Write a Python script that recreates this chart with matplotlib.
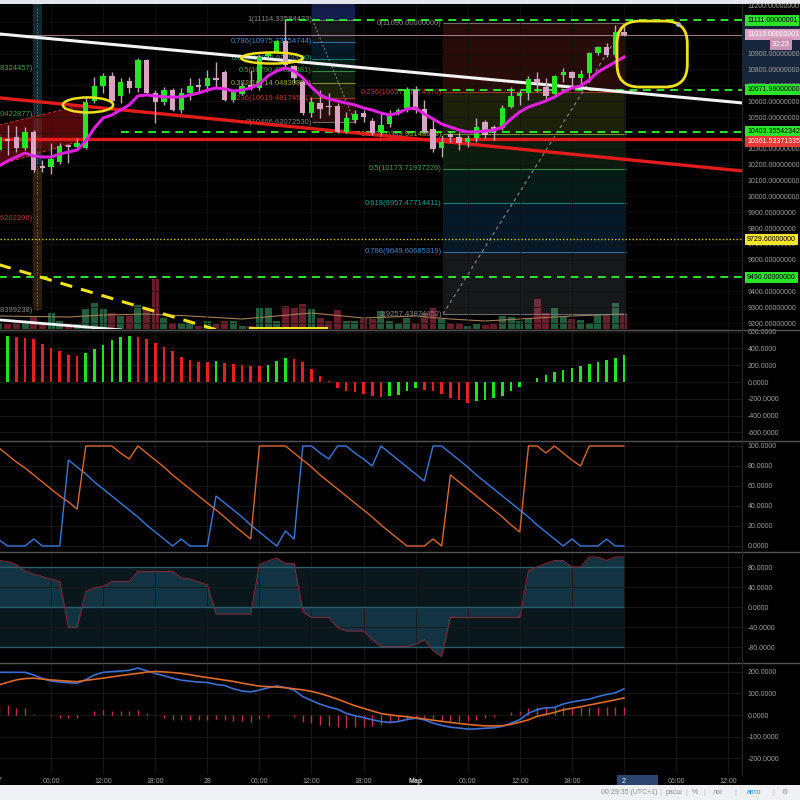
#!/usr/bin/env python3
"""
BTC 1h chart, 27 Feb - 2 Mar, dark theme: candles + fib retracements,
AO histogram, stochastic, CCI-style oscillator and MACD panes.
"""

import matplotlib
matplotlib.use('Agg')
import matplotlib.pyplot as plt
from matplotlib.patches import Rectangle, Ellipse, Polygon, FancyBboxPatch
from matplotlib.lines import Line2D
from matplotlib.ticker import FormatStrFormatter
import numpy as np

plt.rcParams['font.family'] = ['Liberation Sans', 'DejaVu Sans']

# ---------------------------------------------------------------- data
hours = np.arange(73)  # hours since 27 Feb 00:00

opens = [10292, 10361, 10374, 10305, 10406, 10191, 10185, 10216, 10324, 10311,
         10305, 10601, 10696, 10759, 10633, 10727, 10683, 10860, 10651, 10595,
         10670, 10544, 10651, 10702, 10696, 10746, 10784, 10607, 10645, 10702,
         10683, 10885, 10910, 10979, 10822, 10721, 10525, 10588, 10572, 10569,
         10406, 10481, 10525, 10475, 10406, 10456, 10525, 10557, 10670, 10551,
         10424, 10305, 10393, 10374, 10343, 10368, 10469, 10437, 10431, 10563,
         10633, 10651, 10740, 10689, 10645, 10765, 10784, 10746, 10778, 10904,
         10941, 10891, 11036]
closes = [10374, 10349, 10305, 10406, 10166, 10179, 10235, 10317, 10311, 10336,
          10595, 10696, 10759, 10601, 10721, 10683, 10860, 10651, 10595, 10670,
          10544, 10651, 10696, 10689, 10746, 10733, 10607, 10658, 10696, 10683,
          10878, 10904, 10979, 10828, 10746, 10525, 10595, 10551, 10566, 10406,
          10494, 10519, 10500, 10399, 10450, 10506, 10544, 10677, 10544, 10406,
          10298, 10343, 10374, 10336, 10368, 10437, 10387, 10412, 10557, 10633,
          10651, 10740, 10714, 10633, 10759, 10784, 10746, 10771, 10904, 10941,
          10891, 11036, 11019]
highs = [10399, 10450, 10443, 10437, 10418, 10229, 10336, 10336, 10330, 10368,
         10633, 10752, 10778, 10784, 10746, 10752, 10872, 10866, 10670, 10689,
         10683, 10683, 10746, 10746, 10796, 10847, 10796, 10670, 10714, 10796,
         10891, 10910, 10986, 11114, 10828, 10733, 10626, 10670, 10651, 10588,
         10532, 10544, 10544, 10494, 10532, 10544, 10557, 10689, 10696, 10607,
         10494, 10387, 10406, 10406, 10387, 10494, 10481, 10450, 10576, 10689,
         10670, 10759, 10784, 10746, 10765, 10809, 10790, 10796, 10910, 10948,
         10967, 11080, 11080]
lows = [10279, 10261, 10279, 10292, 10153, 10153, 10141, 10204, 10210, 10305,
        10298, 10588, 10651, 10588, 10588, 10651, 10658, 10639, 10462, 10576,
        10538, 10525, 10607, 10658, 10658, 10683, 10600, 10595, 10639, 10670,
        10670, 10872, 10904, 10815, 10714, 10513, 10500, 10494, 10513, 10399,
        10399, 10462, 10469, 10387, 10387, 10437, 10513, 10532, 10525, 10399,
        10279, 10248, 10343, 10292, 10311, 10343, 10368, 10355, 10418, 10557,
        10576, 10607, 10658, 10607, 10633, 10721, 10689, 10702, 10721, 10891,
        10878, 10878, 11011]
ma_line = [10191, 10223, 10248, 10273, 10254, 10248, 10248, 10267, 10279, 10292,
           10349, 10431, 10494, 10513, 10544, 10576, 10633, 10639, 10633, 10626,
           10626, 10626, 10639, 10651, 10670, 10683, 10677, 10664, 10670, 10683,
           10708, 10759, 10790, 10809, 10790, 10746, 10689, 10639, 10614, 10601,
           10588, 10576, 10557, 10544, 10525, 10513, 10525, 10551, 10557, 10519,
           10488, 10456, 10437, 10418, 10406, 10406, 10412, 10418, 10437, 10488,
           10532, 10563, 10582, 10601, 10626, 10658, 10683, 10696, 10733, 10784,
           10815, 10847, 10878]
volume = [600, 500, 800, 800, 1200, 600, 1600, 800, 600, 500,
          2000, 2600, 2000, 1600, 1300, 1300, 2400, 2100, 5000, 1100,
          600, 600, 800, 300, 800, 500, 800, 800, 300, 300,
          2100, 2100, 800, 2300, 2100, 2500, 2000, 1100, 800, 1900,
          800, 800, 1000, 1000, 1800, 800, 600, 1100, 600, 1600,
          2100, 1000, 600, 600, 300, 500, 400, 500, 1300, 1200,
          800, 1100, 3000, 1600, 2100, 1200, 1000, 900, 600, 1500,
          1500, 2600, 1500]
vol_ma_hours = [0, 8, 12, 17, 22, 28, 32, 36, 42, 48, 52, 56, 60, 66, 72]
vol_ma = [1300, 1200, 1400, 1500, 1300, 1000, 1300, 1600, 1100, 1300, 1000, 800,
          1000, 1300, 1500]

ao = [530, 542, 540, 523, 511, 455, 404, 364, 325, 305,
      345, 392, 444, 495, 535, 550, 535, 511, 463, 416,
      364, 297, 257, 238, 234, 246, 226, 218, 206, 194,
      186, 206, 246, 285, 273, 234, 154, 75, 8, -71,
      -111, -115, -139, -162, -178, -170, -150, -111, -71, -90,
      -111, -139, -190, -210, -250, -230, -210, -190, -170, -111,
      -59, -4, 48, 87, 115, 147, 166, 186, 214, 234,
      257, 285, 325]

stoch_k = [6, 0, 0, 0, 7, 0, 0, 0, 86, 79,
           72, 64, 57, 50, 43, 36, 29, 21, 14, 7,
           0, 7, 0, 0, 0, 50, 43, 36, 29, 21,
           14, 7, 0, 15, 7, 100, 100, 93, 87, 100,
           100, 93, 87, 80, 100, 93, 86, 79, 72, 65,
           100, 100, 93, 86, 79, 71, 64, 57, 50, 43,
           36, 29, 21, 14, 7, 0, 7, 0, 0, 0,
           7, 0, 0]
stoch_d = [98, 91, 84, 78, 71, 64, 57, 50, 44, 37,
           100, 100, 100, 100, 93, 87, 100, 93, 86, 79,
           71, 64, 57, 50, 43, 36, 29, 21, 14, 7,
           100, 100, 100, 100, 93, 86, 79, 71, 64, 57,
           50, 43, 36, 29, 21, 14, 7, 0, 0, 0,
           7, 0, 71, 64, 57, 50, 43, 36, 29, 21,
           14, 100, 100, 93, 100, 93, 86, 80, 100, 100,
           100, 100, 100]

cci = [93, 91, 85, 72, 65, 61, 55, 51, -41, -41,
       31, 38, 41, 51, 51, 51, 71, 71, 71, 71,
       71, 58, 56, 50, 44, -14, -14, -14, -14, -14,
       85, 92, 98, 87, 87, -9, -21, -21, -21, -41,
       -48, -48, -48, -65, -79, -79, -79, -79, -75, -65,
       -87, -99, -21, -21, -21, -21, -21, -21, -21, -21,
       -21, 73, 80, 87, 93, 93, 80, 80, 100, 100,
       93, 100, 100]

macd = [197, 197, 197, 197, 185, 168, 157, 152, 149, 146,
        163, 185, 197, 200, 203, 206, 217, 204, 192, 181,
        170, 161, 156, 152, 150, 141, 136, 121, 111, 107,
        115, 126, 134, 127, 115, 85, 67, 50, 37, 27,
        8, -3, -12, -22, -30, -34, -30, -20, -15, -22,
        -37, -48, -56, -60, -65, -64, -61, -59, -52, -38,
        -21, 8, 25, 33, 35, 51, 60, 67, 73, 85,
        95, 102, 121]
signal = [139, 151, 162, 168, 170, 166, 162, 159, 156, 154,
          160, 165, 170, 176, 182, 187, 192, 198, 201, 199,
          196, 192, 186, 179, 173, 167, 161, 155, 147, 140,
          133, 131, 129, 126, 121, 116, 109, 99, 87, 73,
          58, 43, 31, 19, 7, 1, -4, -8, -13, -18,
          -24, -29, -34, -39, -43, -47, -50, -50, -49, -43,
          -33, -22, -6, 3, 12, 24, 31, 38, 46, 54,
          62, 70, 79]
macd_hist = [50, 44, 33, 33, 5, 0, -3, -14, -14, -14,
             2, 17, 24, 20, 20, 20, 24, 8, 0, -14,
             -24, -24, -24, -24, -24, -19, -24, -27, -27, -30,
             -19, -8, 0, 0, -8, -30, -39, -46, -50, -55,
             -58, -55, -55, -50, -46, -39, -30, -24, -14, -14,
             -19, -24, -27, -30, -27, -24, -14, -8, 0, 13,
             20, 33, 39, 39, 36, 36, 33, 36, 36, 39,
             39, 39, 39]

# horizontal levels drawn on the chart
green_levels = [11111.00000001, 10671.96, 10403.35542342, 9490.0]
green_level_start = [33, 46, 14, 0]
red_level = 10361.53371335
yellow_level = 9729.6
last_price = 11019.00000001

# trend lines, anchors as (hour, price)
white_line_h, white_line_p = [0, 86], [11024, 10587]
red_line_h, red_line_p = [0, 86], [10621, 10158]
white_low_h, white_low_p = [0, 14], [9221, 9158]
yellow_dash_h, yellow_dash_p = [0, 26], [9569, 9143]
yellow_base_h, yellow_base_p = [28.9, 37.8], [9172, 9172]
channel_h = [0, 9.7, 9.7, 0]
channel_p = [10450, 10576, 10355, 10198]

# fibonacci retracements
fib1_ratio = [1, 0.786, 0.618, 0.5, 0.382, 0.236, 0]
fib1_price = [11114.33584433, 10975.73554744, 10866.92, 10790.47828481,
              10714.04830856, 10619.48174541, 10466.62072530]
fib1_span = (36.1, 41.0)
fib2_ratio = [0, 0.236, 0.382, 0.5, 0.618, 0.786, 1]
fib2_price = [11090.0, 10657.51574370, 10389.96148659, 10173.71937226,
              9957.47714411, 9649.60685319, 9257.43874452]
fib2_span = (51.15, 72.2)

# cut-off labels of a fib that starts left of the view
edge_label_text = ['(10809.88324457)', '(10519.50422877)', '(9863.66202396)', '(9283.48399238)']
edge_label_price = [10809, 10519, 9863, 9283]

tick_hours = [6, 12, 18, 24, 30, 36, 42, 48, 54, 60, 66, 72, 78, 84]
tick_text = ['06:00', '12:00', '18:00', '28', '06:00', '12:00', '18:00', 'Мар',
             '06:00', '12:00', '18:00', '2', '06:00', '12:00']

# ---------------------------------------------------------------- style
BG = '#000000'
AXIS_TXT = '#a0a0a0'
GRID = '#1b1b1b'
UP, DOWN, WICK = '#25e625', '#d8a4c2', '#c0a6b6'
YELLOW = '#f0e01e'
GREEN_LVL = '#2ee62e'
RED_LVL = '#e31b1b'
lev_col = {0: '#858585', 0.236: '#c0392b', 0.382: '#9aa93a', 0.5: '#3fa34a',
           0.618: '#1f9a8a', 0.786: '#3f86c8', 1: '#858585'}
band_col = {0.236: '#f44336', 0.382: '#b5c43a', 0.5: '#4caf50', 0.618: '#1fa88a',
            0.786: '#2196f3', 1: '#8a8f9a'}

XMIN, XMAX = 0.115, 85.6
PLOT_R = 742

fig = plt.figure(figsize=(8, 8), dpi=100, facecolor=BG)


def fig_rect(x0, y0, x1, y1, color, z=-1):
    fig.add_artist(Rectangle((x0 / 800, 1 - y1 / 800), (x1 - x0) / 800, (y1 - y0) / 800,
                             transform=fig.transFigure, color=color, lw=0, zorder=z))


# chrome: top strip, status bar, axis highlights
fig_rect(0, 0, 800, 4, '#e3e6ec')
fig_rect(0, 785, 800, 800, '#eef0f4')
fig_rect(PLOT_R, 21, 800, 87, '#17263a')
fig_rect(617, 775, 658, 785, '#2c4470')

panes = [(4, 329), (330, 440), (441, 551), (552, 662), (663, 774)]
axes = []
for top, bot in panes:
    a = fig.add_axes([0, 1 - bot / 800, PLOT_R / 800, (bot - top) / 800])
    a.set_facecolor(BG)
    for s in a.spines.values():
        s.set_visible(False)
    a.set_xlim(XMIN, XMAX)
    a.set_xticks(tick_hours)
    a.grid(True, color=GRID, lw=0.6)
    axes.append(a)
ax, ax_ao, ax_st, ax_cci, ax_macd = axes

# ---------------------------------------------------------------- main pane
ax.set_ylim(9163.4, 11212.6)
ax.set_yticks(np.arange(9200, 11201, 100))
ax.yaxis.set_major_formatter(FormatStrFormatter('%.8f'))
ax.grid(True, color='#121212', lw=0.5)

# volume on its own scale, beneath the price drawings
axv = ax.twinx()
axv.set_ylim(0, 32500)
axv.yaxis.set_visible(False)
for s in axv.spines.values():
    s.set_visible(False)
ax.set_zorder(axv.get_zorder() + 1)
ax.patch.set_visible(False)
up = np.array(closes) >= np.array(opens)
axv.bar(hours, volume, width=0.8, color=np.where(up, '#3a9a66', '#b03045'), alpha=0.6, lw=0)
axv.plot(vol_ma_hours, vol_ma, color='#a0805a', lw=0.8)

# right-hand price scale on every pane (twinx moved the main one to the left)
for a in axes:
    a.yaxis.tick_right()
    a.tick_params(axis='y', colors=AXIS_TXT, labelsize=5, length=0, pad=4)
    a.tick_params(axis='x', length=0, labelbottom=False)

# vertical date-range strip near the left edge
ax.fill_between([3.9, 4.95], 10191, 11212.6, color='#123640', alpha=0.8, lw=0, zorder=0.5)
ax.fill_between([3.9, 4.95], 9283, 10191, color='#3a2812', alpha=0.8, lw=0, zorder=0.5)
ax.plot([4.4, 4.4], [9283, 11212.6], color='#8a6a6a', lw=0.6, ls=(0, (2, 2)), zorder=0.6)

# red channel on the left
ax.add_patch(Polygon(np.column_stack([channel_h, channel_p]), closed=True,
                     color='#8b1010', alpha=0.6, lw=0, zorder=1))
ax.plot(channel_h[:2], channel_p[:2], color='#b03030', lw=0.8, ls=(0, (3, 2)), zorder=1.2)
ax.plot(channel_h[2:], channel_p[2:], color='#b03030', lw=0.8, ls=(0, (3, 2)), zorder=1.2)


def draw_fib(ratios, prices, span, label_x):
    x0, x1 = span
    for i in range(len(ratios) - 1):
        key = max(ratios[i], ratios[i + 1])
        lo, hi = sorted([prices[i], prices[i + 1]])
        ax.fill_between([x0, x1], lo, hi, color=band_col[key], alpha=0.17, lw=0, zorder=1)
    for r, p in zip(ratios, prices):
        ax.hlines(p, x0, x1, colors=lev_col[r], lw=0.8, alpha=0.8, zorder=1.5)
        ax.text(label_x, p, f'{r:g}({p:.8f})', ha='right', va='center', fontsize=5.5,
                color=lev_col[r], zorder=3)


draw_fib(fib1_ratio, fib1_price, fib1_span, fib1_span[0] - 0.05)
draw_fib(fib2_ratio, fib2_price, fib2_span, fib2_span[0] - 0.15)
ax.fill_between(fib1_span, fib1_price[0], 11212.6, color='#1b2a6a', alpha=0.75, lw=0, zorder=1)
ax.plot(fib1_span, [fib1_price[0], fib1_price[-1]], color='#8a8a8a', lw=0.7, ls=(0, (2, 2)), zorder=1.6)
ax.plot(fib2_span, [fib2_price[-1], fib2_price[0]], color='#8a8a8a', lw=0.8, ls=(0, (3, 3)), zorder=1.6)

for s, p, c in zip(edge_label_text, edge_label_price, ['#3fa34a', '#3fa34a', '#b83a3a', '#858585']):
    ax.text(3.9, p, s, ha='right', va='center', fontsize=5.5, color=c, zorder=3)

# horizontal levels
for p, h0 in zip(green_levels, green_level_start):
    ax.hlines(p, h0, XMAX, colors=GREEN_LVL, lw=1.4, linestyles=[(0, (4, 3))], zorder=3)
ax.axhline(red_level, color=RED_LVL, lw=2.4, zorder=3)
ax.axhline(yellow_level, color='#d8cc2a', lw=1.0, ls=(0, (1, 1.5)), zorder=3)
ax.axhline(last_price, color='#c79ab3', lw=0.7, alpha=0.8, zorder=2)

# trend lines
ax.plot(white_line_h, white_line_p, color='#f2f2f2', lw=2.2, zorder=3)
ax.plot(red_line_h, red_line_p, color=RED_LVL, lw=2.4, zorder=3)
ax.plot(white_low_h, white_low_p, color='#f2f2f2', lw=2.0, zorder=3)
ax.plot(yellow_dash_h, yellow_dash_p, color=YELLOW, lw=2.2, ls=(0, (4, 3)), zorder=3)
ax.plot(yellow_base_h, yellow_base_p, color=YELLOW, lw=1.5, zorder=3)

# candles
body_lo = np.minimum(opens, closes)
body_h = np.maximum(np.abs(np.array(closes) - np.array(opens)), 6)
ax.vlines(hours, lows, highs, colors=WICK, lw=1.0, zorder=4)
ax.bar(hours, body_h, bottom=body_lo, width=0.62, color=np.where(up, UP, DOWN), lw=0, zorder=5)
ax.plot(hours, ma_line, color='#e020e0', lw=2.2, zorder=6)

# yellow hand drawings
ax.add_patch(Ellipse((10.25, 10576), 5.8, 95, fill=False, ec=YELLOW, lw=1.8, zorder=7))
ax.add_patch(Ellipse((31.45, 10872), 7.1, 70, fill=False, ec=YELLOW, lw=1.8, zorder=7))
ax.add_patch(FancyBboxPatch((71.2, 10689), 8.1, 416, boxstyle='round,pad=0,rounding_size=2.6',
                            mutation_aspect=54.7, fill=False, ec=YELLOW, lw=2, zorder=7))
ax.plot([78.2], [11086], 'o', ms=2.5, color='#bbbbbb', zorder=8)

# price tags on the right axis: (value, shown at price, box colour, text colour)
tags = [(11111.00000001, 11111.0, '#2be32b', '#000000'),
        (last_price, last_price, '#d9a2c0', '#ffffff'),
        (10671.96, 10671.96, '#2be32b', '#000000'),
        (10403.35542342, 10410.0, '#2be32b', '#000000'),
        (red_level, 10348.0, '#e53935', '#ffffff'),
        (yellow_level, yellow_level, '#f2e52a', '#000000'),
        (9490.0, 9490.0, '#2be32b', '#000000')]
for value, at, fc, tc in tags:
    ax.text(1.0067, at, f'{value:.8f}', transform=ax.get_yaxis_transform(), ha='left',
            va='center', fontsize=5, color=tc, clip_on=False, zorder=9,
            bbox=dict(boxstyle='square,pad=0.3', fc=fc, ec='none'))
ax.text(1.04, 10960, '30:23', transform=ax.get_yaxis_transform(), ha='left', va='center',
        fontsize=5, color='#ffffff', clip_on=False, zorder=9,
        bbox=dict(boxstyle='square,pad=0.3', fc='#c995b5', ec='none'))

# ---------------------------------------------------------------- AO pane
ax_ao.set_ylim(-690, 619)
ax_ao.set_yticks(np.arange(-600, 601, 200))
ax_ao.yaxis.set_major_formatter(FormatStrFormatter('%.4f'))
ao_up = np.diff(np.concatenate([[ao[0] - 1], ao])) > 0
ax_ao.bar(hours, ao, width=0.3, color=np.where(ao_up, '#22e022', '#e52020'), lw=0, zorder=3)

# ---------------------------------------------------------------- stochastic
ax_st.set_ylim(-5, 105)
ax_st.set_yticks(np.arange(0, 101, 20))
ax_st.yaxis.set_major_formatter(FormatStrFormatter('%.4f'))
ax_st.plot(hours, stoch_k, color='#3c78d8', lw=1.0, zorder=3)
ax_st.plot(hours, stoch_d, color='#d5692d', lw=1.0, zorder=3)

# ---------------------------------------------------------------- CCI-style pane
ax_cci.set_ylim(-110, 110)
ax_cci.set_yticks(np.arange(-80, 81, 40))
ax_cci.yaxis.set_major_formatter(FormatStrFormatter('%.4f'))
ax_cci.fill_between(hours, -80, 80, color='#0a171d', lw=0, zorder=1)
ax_cci.fill_between(hours, cci, 0, color='#123341', lw=0, zorder=1.2)
ax_cci.hlines([-80, 0, 80], hours[0], hours[-1], colors='#2b5d6b', lw=1.0, zorder=2)
ax_cci.plot(hours, cci, color='#7a2a3a', lw=0.8, zorder=3)

# ---------------------------------------------------------------- MACD
ax_macd.set_ylim(-272, 240)
ax_macd.set_yticks(np.arange(-200, 201, 100))
ax_macd.yaxis.set_major_formatter(FormatStrFormatter('%.4f'))
ax_macd.vlines(hours, 0, macd_hist, colors='#c0304a', lw=1.0, zorder=2)
ax_macd.plot(hours, macd, color='#3b6fd4', lw=1.2, zorder=3)
ax_macd.plot(hours, signal, color='#dd6a2a', lw=1.2, zorder=3)

ax_macd.set_xticklabels(tick_text)
ax_macd.tick_params(axis='x', labelbottom=True, colors=AXIS_TXT, labelsize=5, pad=3)
labels = ax_macd.get_xticklabels()
labels[7].set_fontweight('bold')
labels[7].set_color('#dcdcdc')
labels[11].set_color('#ffffff')
fig.text(-1 / 800, 1 - 781 / 800, '27', ha='center', va='center', fontsize=5, color=AXIS_TXT)

# pane separators and axis border
for y in [329.5, 440.5, 551.5, 662.5]:
    fig.add_artist(Line2D([0, 1], [1 - y / 800] * 2, transform=fig.transFigure,
                          color='#555555', lw=1.0, zorder=10))
fig.add_artist(Line2D([PLOT_R / 800] * 2, [1 - 774 / 800, 1 - 4 / 800], transform=fig.transFigure,
                      color='#262626', lw=0.8, zorder=10))

# status bar texts
status = [(629, '00:29:35 (UTC+1)', '#8a8a8a'), (660, '|', '#c0c0c0'), (674, 'расш', '#8a8a8a'),
          (686, '|', '#c0c0c0'), (695, '%', '#8a8a8a'), (704, '|', '#c0c0c0'),
          (718, 'лог', '#8a8a8a'), (735, '|', '#c0c0c0'), (754, 'авто', '#2196f3'),
          (773, '|', '#c0c0c0'), (784, '⚙', '#8a8a8a')]
for x, s, c in status:
    fig.text(x / 800, 1 - 792 / 800, s, ha='center', va='center', fontsize=5, color=c)

fig.savefig('out.png', dpi=100, facecolor=BG)
plt.close(fig)
